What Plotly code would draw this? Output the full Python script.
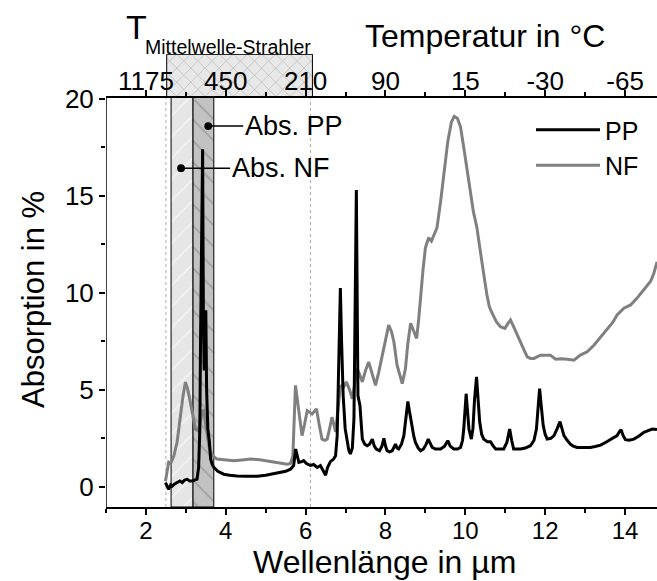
import plotly.graph_objects as go

# ---------------- data ----------------
NF_X = [2.49, 2.53, 2.57, 2.62, 2.70, 2.78, 2.86, 2.93, 2.99, 3.05, 3.11, 3.18, 3.24, 3.30, 3.36, 3.41,
        3.45, 3.49, 3.53, 3.58, 3.62, 3.70, 3.78, 4.0, 4.2, 4.4, 4.62, 4.85, 5.04, 5.3, 5.54, 5.62, 5.68,
        5.745, 5.79, 5.83, 5.91, 5.97, 6.04, 6.10, 6.16, 6.22, 6.27, 6.34, 6.41, 6.48, 6.54, 6.60, 6.66,
        6.71, 6.75, 6.81, 6.87, 6.94, 7.02, 7.10, 7.17, 7.23, 7.29, 7.35, 7.42, 7.50, 7.58, 7.67, 7.75,
        7.83, 7.92, 8.0, 8.08, 8.15, 8.21, 8.29, 8.36, 8.42, 8.5, 8.56, 8.63, 8.7, 8.78, 8.83, 8.88, 8.94,
        9.0, 9.08, 9.15, 9.22, 9.29, 9.38, 9.47, 9.56, 9.65, 9.72, 9.8, 9.88, 9.96, 10.04, 10.12, 10.2,
        10.29, 10.35, 10.42, 10.48, 10.54, 10.6, 10.67, 10.78, 10.88, 10.99, 11.06, 11.13, 11.2, 11.26,
        11.32, 11.38, 11.46, 11.55, 11.63, 11.72, 11.8, 11.88, 12.0, 12.13, 12.26, 12.4, 12.55, 12.72,
        12.88, 13.05, 13.22, 13.39, 13.55, 13.7, 13.8, 13.97, 14.14, 14.3, 14.47, 14.64, 14.72, 14.8]
NF_Y = [0.3, 0.9, 1.27, 1.2, 1.6, 2.3, 3.67, 4.7, 5.4, 5.0, 4.38, 3.6, 2.98, 2.9, 3.3, 3.9,
        3.93, 3.3, 2.64, 2.1, 1.77, 1.55, 1.43, 1.38, 1.34, 1.38, 1.43, 1.4, 1.34, 1.28, 1.17, 1.2, 1.6,
        5.23, 4.5, 3.67, 2.64, 3.2, 3.93, 3.85, 3.76, 3.9, 4.02, 3.2, 2.46, 2.4, 2.46, 3.0, 3.59,
        3.2, 2.83, 4.0, 5.23, 5.1, 5.41, 5.0, 4.54, 5.3, 6.1, 5.8, 5.41, 6.0, 6.44, 5.8, 5.23,
        5.9, 6.79, 7.6, 8.34, 8.0, 7.48, 6.27, 5.8, 5.32, 6.1, 7.4, 8.43, 8.1, 7.65, 8.6, 9.9, 11.2,
        12.32, 12.84, 12.67, 13.0, 13.36, 14.7, 16.3, 17.8, 18.8, 19.1, 19.0, 18.55, 17.5, 16.5, 15.3, 14.2,
        13.36, 12.5, 11.63, 10.7, 9.9, 9.3, 8.95, 8.5, 8.26, 8.17, 8.4, 8.6, 8.3, 8.0,
        7.7, 7.48, 7.1, 6.7, 6.62, 6.62, 6.7, 6.79, 6.79, 6.79, 6.58, 6.6, 6.58, 6.53,
        6.79, 6.96, 7.3, 7.74, 8.17, 8.5, 8.86, 9.21, 9.38, 9.73, 10.16, 10.6, 11.0, 11.6]

PP_X = [2.49, 2.53, 2.57, 2.62, 2.66, 2.72, 2.78, 2.85, 2.91, 2.97, 3.03, 3.10, 3.16, 3.22, 3.28, 3.32,
        3.35, 3.37, 3.39, 3.40, 3.42, 3.44, 3.46, 3.48, 3.50, 3.52, 3.55, 3.59, 3.62, 3.66, 3.70, 3.8,
        3.95, 4.1, 4.28, 4.5, 4.79, 5.0, 5.29, 5.5, 5.62, 5.7, 5.75, 5.79, 5.83, 5.9, 5.95, 6.02, 6.12,
        6.2, 6.29, 6.37, 6.45, 6.5, 6.55, 6.62, 6.7, 6.75, 6.79, 6.83, 6.87, 6.9, 6.94, 6.99, 7.04, 7.08,
        7.12, 7.17, 7.21, 7.27, 7.31, 7.36, 7.42, 7.48, 7.54, 7.6, 7.67, 7.72, 7.77, 7.85, 7.91, 7.96,
        8.0, 8.04, 8.1, 8.17, 8.25, 8.29, 8.33, 8.4, 8.46, 8.52, 8.56, 8.6, 8.64, 8.67, 8.71, 8.75, 8.82,
        8.88, 8.95, 9.02, 9.07, 9.12, 9.17, 9.25, 9.38, 9.48, 9.56, 9.62, 9.71, 9.8, 9.88, 9.93, 9.96,
        10.02, 10.06, 10.09, 10.15, 10.19, 10.23, 10.28, 10.32, 10.36, 10.41, 10.46, 10.55, 10.63, 10.7,
        10.76, 10.88, 10.96, 11.04, 11.11, 11.16, 11.21, 11.3, 11.38, 11.5, 11.63, 11.72, 11.78, 11.83,
        11.86, 11.9, 11.95, 12.0, 12.05, 12.14, 12.22, 12.3, 12.37, 12.42, 12.47, 12.55, 12.63, 12.7,
        12.8, 12.95, 13.13, 13.25, 13.39, 13.52, 13.64, 13.74, 13.8, 13.86, 13.9, 13.95, 14.01, 14.1,
        14.22, 14.35, 14.47, 14.58, 14.68, 14.8]
PP_Y = [0.22, 0.0, -0.13, 0.1, 0.04, 0.15, 0.22, 0.3, 0.22, 0.35, 0.39, 0.3, 0.3, 0.35, 0.39, 1.0,
        2.98, 8.0, 13.3, 12.0, 17.4, 8.5, 6.0, 8.0, 9.1, 5.0, 3.0, 2.3, 1.43, 1.15, 1.0, 0.8,
        0.65, 0.6, 0.56, 0.55, 0.54, 0.6, 0.7, 0.8, 0.91, 1.1, 1.95, 1.5, 1.26, 1.3, 1.35, 1.2, 1.1,
        1.15, 1.0, 1.1, 0.82, 0.6, 1.0, 1.3, 1.43, 1.6, 2.64, 6.5, 10.25, 7.5, 4.71, 3.0, 2.29, 1.9,
        1.69, 2.0, 3.5, 15.3, 4.71, 4.19, 2.46, 2.2, 2.12, 2.2, 2.46, 2.1, 1.95, 1.86, 2.1, 2.5,
        2.1, 1.86, 1.8, 1.86, 2.2, 2.0, 1.95, 2.2, 2.64, 3.6, 4.4, 3.9, 3.3, 3.07, 2.6, 2.29, 2.0,
        1.86, 1.95, 2.2, 2.46, 2.2, 2.03, 1.95, 1.95, 2.1, 2.38, 2.1, 1.95, 1.95, 2.03, 2.4, 2.98,
        4.8, 3.8, 2.98, 2.46, 3.0, 4.5, 5.67, 4.5, 3.33, 2.7, 2.46, 2.33, 2.33, 2.1,
        1.95, 1.95, 1.95, 2.29, 2.98, 2.4, 1.95, 1.95, 1.95, 2.0, 2.12, 2.4, 2.98, 4.3,
        5.06, 4.2, 3.16, 2.7, 2.46, 2.5, 2.64, 3.0, 3.36, 3.0, 2.64, 2.4, 2.2, 2.1,
        2.03, 2.03, 2.03, 2.08, 2.15, 2.3, 2.46, 2.55, 2.64, 2.85, 2.95, 2.65, 2.43, 2.4,
        2.46, 2.62, 2.81, 2.9, 2.98, 2.95]

X_RANGE = [1.0, 14.8]
Y_RANGE = [-1.04, 20.1]         # visible absorption axis range
X_TICKS = [2, 4, 6, 8, 10, 12, 14]
Y_TICKS = [0, 5, 10, 15, 20]
Y_MINOR = [2.5, 7.5, 12.5, 17.5]
TEMP_LABELS = ["1175", "450", "210", "90", "15", "-30", "-65"]
TOP_MINOR = [3, 5, 7, 9, 11, 13]

BAND_NF = [2.63, 3.18]      # absorption band NF (µm)
BAND_PP = [3.18, 3.70]      # absorption band PP (µm)
EMITTER = [2.52, 6.17]      # Mittelwelle-Strahler range (µm)
EMITTER_TOP = 22.30         # top of emitter box (in absorption units, above the axis)
DOTTED = [2.50, 6.12]
LBL_PP = (3.56, 18.6)
LBL_NF = (2.88, 16.43)

FONT = "Liberation Sans, Arial, sans-serif"
MT, MB = 54, 74
PLOT_H = 581 - MT - MB
DSPLIT = (PLOT_H - 43) / PLOT_H                     # fraction of plot height used by main axis
Y_TOP = Y_RANGE[0] + (Y_RANGE[1] - Y_RANGE[0]) / DSPLIT


def py(p):  # paper y from pixel row
    return (581 - MB - p) / PLOT_H


def pxp(p):  # paper x from pixel column
    return (p - 106) / (657 - 106)


fig = go.Figure()

# emitter box above the absorption axis
fig.add_trace(go.Scatter(
    x=[EMITTER[0], EMITTER[0], EMITTER[1], EMITTER[1], EMITTER[0]],
    y=[Y_RANGE[1], EMITTER_TOP, EMITTER_TOP, Y_RANGE[1], Y_RANGE[1]],
    mode="lines", fill="toself",
    line=dict(color="black", width=1), fillcolor="#e8e8e8",
    fillpattern=dict(shape="x", bgcolor="#e8e8e8", fgcolor="#7a7a7a", size=10, solidity=0.12),
    showlegend=False, hoverinfo="skip"))


def band(xs, bg, fg, shape):
    return go.Scatter(
        x=[xs[0], xs[0], xs[1], xs[1], xs[0]],
        y=[Y_RANGE[0], Y_RANGE[1], Y_RANGE[1], Y_RANGE[0], Y_RANGE[0]],
        mode="lines", fill="toself",
        line=dict(color="black", width=1), fillcolor=bg,
        fillpattern=dict(shape=shape, bgcolor=bg, fgcolor=fg, size=15, solidity=0.12),
        showlegend=False, hoverinfo="skip")


fig.add_trace(band(BAND_NF, "#e6e6e6", "#ffffff", "/"))
fig.add_trace(band(BAND_PP, "#c2c2c2", "#808080", "\\"))

fig.add_trace(go.Scatter(x=NF_X, y=NF_Y, mode="lines", name="NF",
                         line=dict(color="#808080", width=3), legendrank=2))
fig.add_trace(go.Scatter(x=PP_X, y=PP_Y, mode="lines", name="PP",
                         line=dict(color="black", width=3), legendrank=1))
fig.add_trace(go.Scatter(x=[None], y=[None], xaxis="x2", yaxis="y", showlegend=False,
                         hoverinfo="skip"))

for xv in DOTTED:
    fig.add_shape(type="line", xref="x", yref="y", x0=xv, x1=xv, y0=Y_RANGE[0], y1=Y_RANGE[1],
                  line=dict(color="#aaaaaa", width=1, dash="dot"), layer="below")

# left axis line only along the absorption range
fig.add_shape(type="line", xref="x", yref="y", x0=X_RANGE[0], x1=X_RANGE[0],
              y0=Y_RANGE[0], y1=Y_RANGE[1], line=dict(color="black", width=1.5), layer="above")

axis_common = dict(ticks="outside", tickcolor="black", tickwidth=1.5, ticklen=6,
                   showgrid=False, zeroline=False, automargin=False)
tick_font = dict(size=26, color="black", family=FONT)

fig.update_layout(
    width=657, height=581,
    margin=dict(l=106, r=0, t=MT, b=MB),
    paper_bgcolor="white", plot_bgcolor="rgba(0,0,0,0)",
    font=dict(family=FONT, color="black"),
    xaxis=dict(domain=[0, 1], anchor="y", range=X_RANGE, tickvals=X_TICKS,
               showline=True, linecolor="black", linewidth=1.5, ticklabelstandoff=-5,
               tickfont=dict(size=24, color="black", family=FONT),
               minor=dict(dtick=1, tick0=1, ticks="outside", ticklen=4, tickcolor="black", tickwidth=1.5),
               **axis_common),
    yaxis=dict(domain=[0, 1], anchor="x", range=[Y_RANGE[0], Y_TOP], tickvals=Y_TICKS,
               showline=False, tickfont=tick_font,
               minor=dict(tickvals=Y_MINOR, ticks="outside", ticklen=4,
                          tickcolor="black", tickwidth=1.5),
               **axis_common),
    xaxis2=dict(overlaying="x", anchor="free", position=DSPLIT, side="top", range=X_RANGE,
                tickvals=X_TICKS, ticktext=TEMP_LABELS, showline=True, linecolor="black",
                linewidth=1.5, ticklabelstandoff=-10, tickfont=tick_font,
                minor=dict(tickvals=TOP_MINOR, ticks="outside", ticklen=4, tickcolor="black", tickwidth=1.5),
                **axis_common),
    legend=dict(x=pxp(531), y=py(107), xanchor="left", yanchor="top", bgcolor="rgba(0,0,0,0)",
                font=dict(size=25, color="black", family=FONT), itemwidth=64, tracegroupgap=0),
    showlegend=True,
)

fig.add_annotation(text="Wellenlänge in µm", xref="paper", yref="paper", x=pxp(384), y=py(562),
                   xanchor="center", yanchor="middle", showarrow=False, font=dict(size=32))
fig.add_annotation(text="Absorption in %", xref="paper", yref="paper", x=pxp(33), y=py(300),
                   xanchor="center", yanchor="middle", textangle=-90, showarrow=False,
                   font=dict(size=31))
fig.add_annotation(text="T", xref="paper", yref="paper", x=pxp(124), y=py(27),
                   xanchor="left", yanchor="middle", showarrow=False, font=dict(size=34))
fig.add_annotation(text="Mittelwelle-Strahler", xref="paper", yref="paper", x=pxp(143), y=py(47),
                   xanchor="left", yanchor="middle", showarrow=False, font=dict(size=19.5))
fig.add_annotation(text="Temperatur in °C", xref="paper", yref="paper", x=pxp(485), y=py(36),
                   xanchor="center", yanchor="middle", showarrow=False, font=dict(size=32))

for (lx, ly), txt, off in [(LBL_PP, "Abs. PP", 35), (LBL_NF, "Abs. NF", 49)]:
    fig.add_annotation(text=txt, xref="x", yref="y", x=lx, y=ly, ax=off, ay=0,
                       xanchor="left", yanchor="middle", showarrow=True, arrowhead=6,
                       arrowsize=1.3, arrowwidth=1.5, arrowcolor="black",
                       font=dict(size=27, color="black"))

fig.write_html("out.html")
